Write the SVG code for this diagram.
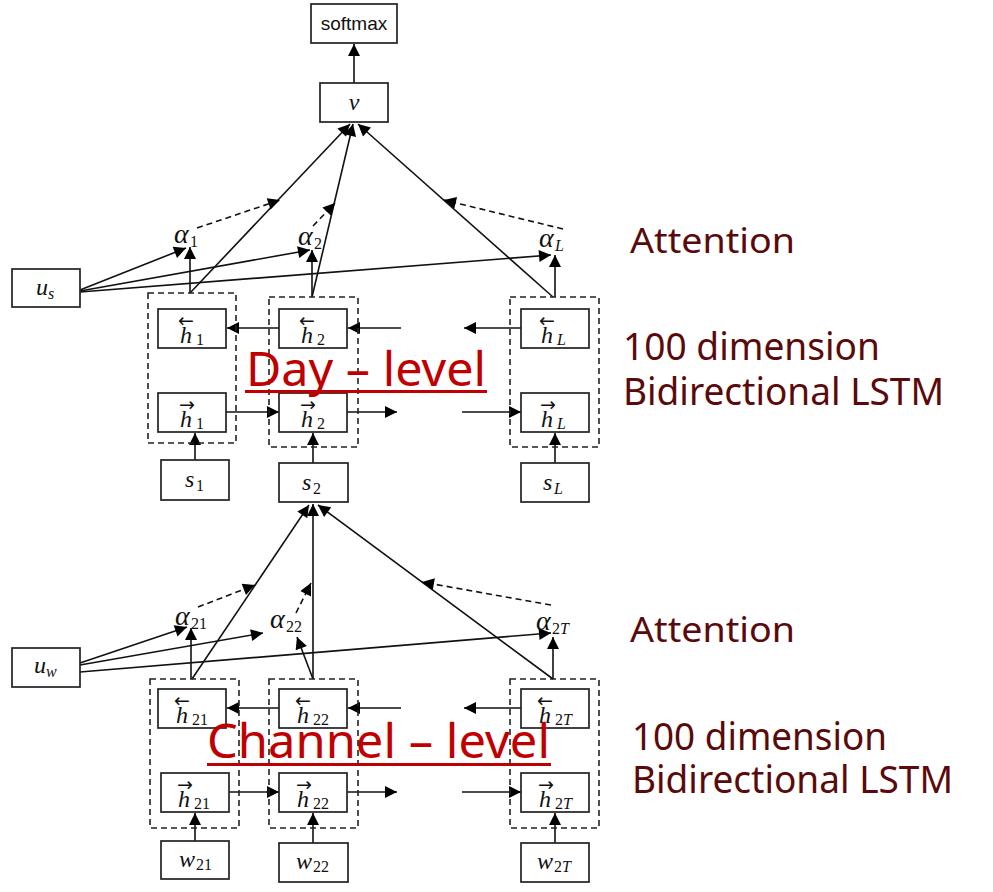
<svg xmlns="http://www.w3.org/2000/svg" width="993" height="892" viewBox="0 0 993 892">
<defs>
<marker id="ah" viewBox="0 0 10 10" refX="10" refY="5" markerWidth="15" markerHeight="12" markerUnits="userSpaceOnUse" orient="auto"><path d="M0,0 L10,5 L0,10 z" fill="#000"/></marker>
<style>
.b{fill:#fff;stroke:#222;stroke-width:1.7}
.d{fill:none;stroke:#222;stroke-width:1.6;stroke-dasharray:6,4}
.c line{stroke:#111;stroke-width:1.6;marker-end:url(#ah)}
.c line.ds{stroke-dasharray:6,4}
.m{font-family:"Liberation Serif","DejaVu Serif",serif;font-style:italic;font-size:24px;fill:#111}
.al{font-family:"Liberation Serif","DejaVu Serif",serif;font-style:italic;font-size:28px;fill:#111}
.sb{font-family:"Liberation Serif","DejaVu Serif",serif;font-size:16px;fill:#111}
.si{font-family:"Liberation Serif","DejaVu Serif",serif;font-style:italic;font-size:16px;fill:#111}
.ar{font-family:"DejaVu Sans",sans-serif;font-size:19px;fill:#111}
.red{font-family:"Noto Sans","Noto Sans CJK KR",sans-serif;font-size:47px;fill:#C00000}
.mar{font-family:"Noto Sans","Noto Sans CJK KR",sans-serif;fill:#5A0A0A}
</style>
</defs>
<rect width="993" height="892" fill="#fff"/>

<g id="connectors" class="c">
<line x1="354" y1="83" x2="354" y2="44"/>
<line x1="190" y1="293" x2="350" y2="124"/>
<line x1="312" y1="297" x2="353" y2="124"/>
<line x1="553" y1="297" x2="358" y2="124"/>
<line x1="190" y1="293" x2="190" y2="247"/>
<line x1="312" y1="297" x2="312" y2="250"/>
<line x1="555" y1="297" x2="555" y2="255"/>
<line x1="80" y1="290" x2="186" y2="248"/>
<line x1="80" y1="291" x2="310" y2="250"/>
<line x1="80" y1="292" x2="551" y2="255"/>
<line class="ds" x1="197" y1="228" x2="280" y2="200"/>
<line class="ds" x1="313" y1="226" x2="335" y2="203"/>
<line class="ds" x1="563" y1="229" x2="444" y2="200"/>
<line x1="279" y1="328" x2="227" y2="328"/>
<line x1="401" y1="328" x2="348" y2="328"/>
<line x1="521" y1="328" x2="464" y2="328"/>
<line x1="226" y1="412" x2="279" y2="412"/>
<line x1="347" y1="412" x2="397" y2="412"/>
<line x1="462" y1="412" x2="521" y2="412"/>
<line x1="195" y1="460" x2="195" y2="433"/>
<line x1="313" y1="463" x2="313" y2="433"/>
<line x1="555" y1="463" x2="555" y2="433"/>
<line x1="192" y1="679" x2="309" y2="505"/>
<line x1="313" y1="679" x2="313" y2="504"/>
<line x1="553" y1="679" x2="318" y2="505"/>
<line x1="191" y1="679" x2="191" y2="628"/>
<line x1="313" y1="679" x2="297" y2="637"/>
<line x1="553" y1="679" x2="553" y2="637"/>
<line x1="80" y1="663" x2="187" y2="627"/>
<line x1="80" y1="665" x2="263" y2="633"/>
<line x1="80" y1="672" x2="551" y2="633"/>
<line class="ds" x1="198" y1="607" x2="255" y2="585"/>
<line class="ds" x1="296" y1="613" x2="311" y2="583"/>
<line class="ds" x1="551" y1="605" x2="422" y2="582"/>
<line x1="279" y1="708" x2="227" y2="708"/>
<line x1="401" y1="708" x2="348" y2="708"/>
<line x1="521" y1="708" x2="464" y2="708"/>
<line x1="229" y1="792" x2="279" y2="792"/>
<line x1="347" y1="792" x2="397" y2="792"/>
<line x1="462" y1="792" x2="521" y2="792"/>
<line x1="195" y1="841" x2="195" y2="813"/>
<line x1="313" y1="843" x2="313" y2="813"/>
<line x1="555" y1="843" x2="555" y2="813"/>
</g>

<g id="softmax"><rect class="b" x="311" y="4" width="86" height="39"/><text x="354" y="30" text-anchor="middle" font-family="Liberation Sans,Arial,sans-serif" font-size="19" fill="#111">softmax</text></g>
<g id="v"><rect class="b" x="320" y="83" width="68" height="39"/><text class="m" x="354" y="110" text-anchor="middle">v</text></g>
<g id="us"><rect class="b" x="12" y="269" width="68" height="38"/><text class="m" x="36" y="295">u</text><text class="si" x="48" y="299">s</text></g>
<g id="alpha1"><text class="al" x="174" y="243">α</text><text class="sb" x="190" y="247">1</text></g>
<g id="alpha2"><text class="al" x="298" y="245">α</text><text class="sb" x="314" y="249">2</text></g>
<g id="alphaL"><text class="al" x="539" y="247">α</text><text class="si" x="555" y="251">L</text></g>

<g id="day1"><rect class="d" x="148" y="293" width="88" height="150"/>
<rect class="b" x="158" y="309" width="68" height="39"/><text class="ar" x="178" y="327">←</text><text class="m" x="180" y="343">h</text><text class="sb" x="196" y="345">1</text>
<rect class="b" x="158" y="393" width="68" height="39"/><text class="ar" x="179" y="411">→</text><text class="m" x="180" y="427">h</text><text class="sb" x="196" y="429">1</text></g>
<g id="day2"><rect class="d" x="269" y="297" width="89" height="150"/>
<rect class="b" x="279" y="309" width="68" height="39"/><text class="ar" x="299" y="327">←</text><text class="m" x="301" y="343">h</text><text class="sb" x="317" y="345">2</text>
<rect class="b" x="279" y="393" width="68" height="39"/><text class="ar" x="300" y="411">→</text><text class="m" x="301" y="427">h</text><text class="sb" x="317" y="429">2</text></g>
<g id="dayL"><rect class="d" x="510" y="297" width="89" height="150"/>
<rect class="b" x="521" y="309" width="68" height="39"/><text class="ar" x="539" y="327">←</text><text class="m" x="541" y="343">h</text><text class="si" x="557" y="345">L</text>
<rect class="b" x="521" y="393" width="68" height="39"/><text class="ar" x="540" y="411">→</text><text class="m" x="541" y="427">h</text><text class="si" x="557" y="429">L</text></g>

<g id="s1"><rect class="b" x="161" y="460" width="68" height="40"/><text class="m" x="185" y="487">s</text><text class="sb" x="196" y="491">1</text></g>
<g id="s2"><rect class="b" x="279" y="463" width="69" height="39"/><text class="m" x="302" y="490">s</text><text class="sb" x="313" y="494">2</text></g>
<g id="sL"><rect class="b" x="521" y="463" width="68" height="39"/><text class="m" x="543" y="490">s</text><text class="si" x="554" y="494">L</text></g>

<g id="uw"><rect class="b" x="12" y="648" width="68" height="39"/><text class="m" x="34" y="673">u</text><text class="si" x="46" y="677">w</text></g>
<g id="alpha21"><text class="al" x="175" y="625">α</text><text class="sb" x="191" y="629">21</text></g>
<g id="alpha22"><text class="al" x="270" y="628">α</text><text class="sb" x="286" y="632">22</text></g>
<g id="alpha2T"><text class="al" x="536" y="630">α</text><text class="sb" x="552" y="634">2<tspan class="si">T</tspan></text></g>

<g id="ch21"><rect class="d" x="150" y="679" width="89" height="149"/>
<rect class="b" x="158" y="689" width="68" height="39"/><text class="ar" x="174" y="707">←</text><text class="m" x="176" y="723">h</text><text class="sb" x="192" y="725">21</text>
<rect class="b" x="161" y="773" width="68" height="39"/><text class="ar" x="177" y="791">→</text><text class="m" x="178" y="807">h</text><text class="sb" x="194" y="809">21</text></g>
<g id="ch22"><rect class="d" x="269" y="679" width="89" height="149"/>
<rect class="b" x="279" y="689" width="68" height="39"/><text class="ar" x="295" y="707">←</text><text class="m" x="297" y="723">h</text><text class="sb" x="313" y="725">22</text>
<rect class="b" x="279" y="773" width="68" height="39"/><text class="ar" x="296" y="791">→</text><text class="m" x="297" y="807">h</text><text class="sb" x="313" y="809">22</text></g>
<g id="ch2T"><rect class="d" x="510" y="679" width="89" height="149"/>
<rect class="b" x="521" y="689" width="68" height="39"/><text class="ar" x="537" y="707">←</text><text class="m" x="539" y="723">h</text><text class="sb" x="555" y="725">2<tspan class="si">T</tspan></text>
<rect class="b" x="521" y="773" width="68" height="39"/><text class="ar" x="538" y="791">→</text><text class="m" x="539" y="807">h</text><text class="sb" x="555" y="809">2<tspan class="si">T</tspan></text></g>

<g id="w21"><rect class="b" x="161" y="841" width="68" height="38"/><text class="m" x="179" y="867">w</text><text class="sb" x="196" y="870">21</text></g>
<g id="w22"><rect class="b" x="279" y="843" width="69" height="39"/><text class="m" x="296" y="869">w</text><text class="sb" x="313" y="872">22</text></g>
<g id="w2T"><rect class="b" x="521" y="843" width="68" height="39"/><text class="m" x="537" y="869">w</text><text class="sb" x="554" y="872">2<tspan class="si">T</tspan></text></g>

<g id="day-level"><text class="red" x="246" y="386" textLength="240" lengthAdjust="spacingAndGlyphs">Day – level</text><rect x="245" y="390" width="242" height="3" fill="#C00000"/></g>
<g id="channel-level"><text class="red" x="207" y="758" textLength="343" lengthAdjust="spacingAndGlyphs">Channel – level</text><rect x="207" y="763" width="344" height="3" fill="#C00000"/></g>
<g id="label-attention-top"><text class="mar" x="630" y="253" font-size="35" textLength="165" lengthAdjust="spacingAndGlyphs">Attention</text></g>
<g id="label-lstm-top"><text class="mar" x="623" y="360" font-size="39" textLength="257" lengthAdjust="spacingAndGlyphs">100 dimension</text><text class="mar" x="623" y="405" font-size="39" textLength="321" lengthAdjust="spacingAndGlyphs">Bidirectional LSTM</text></g>
<g id="label-attention-bottom"><text class="mar" x="630" y="642" font-size="35" textLength="165" lengthAdjust="spacingAndGlyphs">Attention</text></g>
<g id="label-lstm-bottom"><text class="mar" x="632" y="750" font-size="39" textLength="255" lengthAdjust="spacingAndGlyphs">100 dimension</text><text class="mar" x="632" y="793" font-size="39" textLength="321" lengthAdjust="spacingAndGlyphs">Bidirectional LSTM</text></g>
</svg>
